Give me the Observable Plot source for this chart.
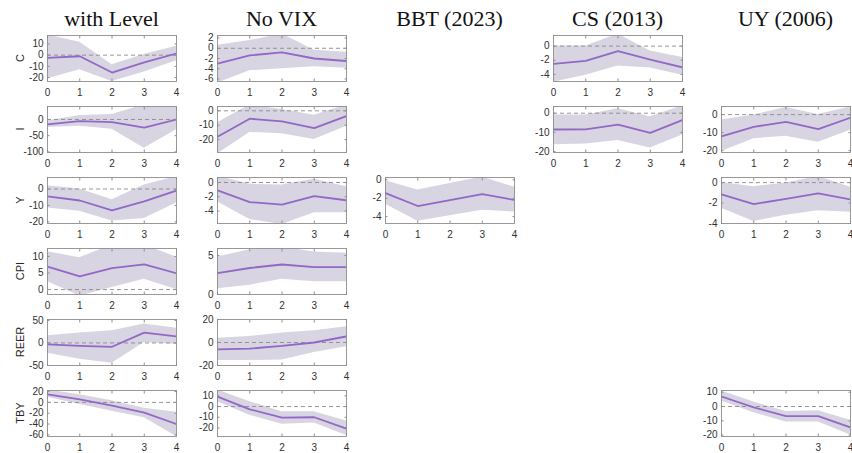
<!DOCTYPE html>
<html><head><meta charset="utf-8">
<script src="https://cdn.jsdelivr.net/npm/d3@7"></script>
<script src="https://cdn.jsdelivr.net/npm/@observablehq/plot@0.6"></script>
<style>
html,body{margin:0;padding:0;background:#fff;}
#root{position:relative;width:852px;height:453px;overflow:hidden;background:#fff;}
.title{position:absolute;font-family:"Liberation Serif","Times New Roman",serif;font-size:22px;line-height:22px;color:#111;white-space:nowrap;transform:translateX(-50%);}
.rowlab{position:absolute;font-family:"Liberation Sans",Arial,sans-serif;font-size:11px;line-height:11px;color:#262626;white-space:nowrap;transform:translate(-50%,-50%) rotate(-90deg);}
.panel{position:absolute;}
</style></head><body><div id="root"></div>
<script>
// ---------------- data ----------------
const horizons = [0, 1, 2, 3, 4];
const columnTitles = ["with Level", "No VIX", "BBT (2023)", "CS (2013)", "UY (2006)"];
const rowLabels = ["C", "I", "Y", "CPI", "REER", "TBY"];

// rows: C, I, Y, CPI, REER, TBY  (null = no panel)
const withLevelMid = [
  [-2.5, -1, -15.5, -6.5, 1.5],
  [-15, -5, -8, -25, 0],
  [-4.5, -7, -13, -7.5, -1],
  [6.9, 4, 6.5, 7.6, 4.9],
  [-3, -6.5, -8.5, 23, 14.5],
  [15, 5.5, -6, -19, -40]
];
const withLevelLo = [
  [-21, -13, -23.5, -15, -5],
  [-25, -21, -30, -89, -32],
  [-11.5, -13.5, -19.5, -18, -8.5],
  [2.4, -2, 0.6, 3.1, 0],
  [-23, -36, -45, 1, -3],
  [9.5, -4, -16.5, -28.5, -63]
];
const withLevelHi = [
  [18, 11.5, -8.5, 0.5, 8],
  [-5, 12, 15, 45, 45],
  [2, 0, -6.5, 2.5, 7.5],
  [11.4, 9.6, 13.5, 13.5, 9.8],
  [16, 22, 27, 42, 32.5],
  [23, 14, 3, -11, -18]
];
const withLevelLimits = [[-23.5, 17.5], [-102, 40], [-21, 7], [-1.5, 12.4], [-50, 52], [-63, 22]];
const withLevelTicks = [[-20, -10, 0, 10], [-100, -50, 0], [-20, -10, 0], [0, 5, 10], [-50, 0, 50], [-60, -40, -20, 0, 20]];

const noVIXMid = [
  [-3, -1.4, -0.8, -2, -2.5],
  [-18, -5.5, -7.4, -12, -3.6],
  [-1.1, -2.75, -3.1, -1.9, -2.5],
  [2.75, 3.4, 3.85, 3.5, 3.5],
  [-5.9, -5.3, -3, 0, 5.3],
  [9.3, -2.6, -10.3, -10, -20.7]
];
const noVIXLo = [
  [-6.8, -4.4, -4, -3.6, -3.9],
  [-30, -15, -16, -20, -10.8],
  [-2.7, -5.2, -5.9, -4.25, -4.25],
  [0.75, 1.2, 1.95, 1.65, 1.65],
  [-15.6, -15.6, -15.3, -8.8, -3.8],
  [4.6, -8.1, -16.6, -15.4, -27]
];
const noVIXHi = [
  [0.6, 1.5, 2.8, -0.4, -0.8],
  [-8.3, 4, 1, -3, 4],
  [0.9, -0.25, -0.35, 0.45, -0.6],
  [4.8, 5.75, 6.1, 5.45, 5.3],
  [3.8, 5.3, 8.2, 10.3, 13.8],
  [15.5, 4.6, -4.9, -4.9, -13.4]
];
const noVIXLimits = [[-6.5, 2.5], [-29, 3], [-5.75, 0.7], [0, 5.9], [-20, 20], [-28, 15]];
const noVIXTicks = [[-6, -4, -2, 0, 2], [-20, -10, 0], [-4, -2, 0], [0, 5], [-20, 0, 20], [-20, -10, 0, 10]];

const bbtMid = [null, null, [-1.45, -2.85, -2.2, -1.55, -2.2], null, null, null];
const bbtLo = [null, null, [-2.65, -4.5, -3.9, -3.3, -3.5], null, null, null];
const bbtHi = [null, null, [-0.1, -1.1, -0.4, 0.3, -0.8], null, null, null];
const bbtLimits = [null, null, [-4.75, 0.25], null, null, null];
const bbtTicks = [null, null, [-4, -2, 0], null, null, null];

const csMid = [[-2.5, -2.1, -0.7, -1.9, -3.0], [-8.5, -8.4, -5.9, -10.3, -3.6], null, null, null, null];
const csLo = [[-5.1, -4.1, -2.8, -3.1, -4.1], [-16.5, -16, -14.2, -18.1, -11.4], null, null, null, null];
const csHi = [[0, 0, 1.7, -0.7, -1.6], [-0.9, -0.9, 2.3, -1.8, 3.8], null, null, null, null];
const csLimits = [[-5, 1.5], [-20.5, 3.5], null, null, null, null];
const csTicks = [[-4, -2, 0], [-20, -10, 0], null, null, null, null];

const uyMid = [null, [-12, -6.8, -4, -8, -1.7], [-1.15, -2.1, -1.6, -1.05, -1.65], null, null, [7, -0.6, -6.7, -6.7, -14.7]];
const uyLo = [null, [-20.5, -13.4, -12, -15.3, -8.7], [-2.5, -3.8, -3.2, -2.75, -2.9], null, null, [3.8, -4.3, -10.9, -10.9, -20]];
const uyHi = [null, [-3, -0.2, 3.9, 0, 4.2], [0, -0.4, -0.05, 0.6, -0.45], null, null, [10.8, 3.1, -3.5, -2.9, -9.7]];
const uyLimits = [null, [-21, 4.5], [-4, 0.5], null, null, [-21, 11.2]];
const uyTicks = [null, [-20, -10, 0], [-4, -2, 0], null, null, [-20, -10, 0, 10]];

const zeroLineShown = [true, true, false, true, true];

// ---------------- layout ----------------
const columns = [
  {mid: withLevelMid, lo: withLevelLo, hi: withLevelHi, lim: withLevelLimits, ticks: withLevelTicks},
  {mid: noVIXMid, lo: noVIXLo, hi: noVIXHi, lim: noVIXLimits, ticks: noVIXTicks},
  {mid: bbtMid, lo: bbtLo, hi: bbtHi, lim: bbtLimits, ticks: bbtTicks},
  {mid: csMid, lo: csLo, hi: csHi, lim: csLimits, ticks: csTicks},
  {mid: uyMid, lo: uyLo, hi: uyHi, lim: uyLimits, ticks: uyTicks}
];
const colLeft = [47, 217, 385, 553, 721];
const rowTop = [35, 106, 177, 248, 319, 390];
const PW = 129, PH = 46;
const ML = 34, MR = 6, MT = 6, MB = 22;
const LINE = "#9168c6", BAND = "#d8d4e2", FRAME = "#8e8e8e";
const plainNum = d => String(d);

const root = document.getElementById("root");

columnTitles.forEach((t, c) => {
  const d = document.createElement("div");
  d.className = "title";
  d.textContent = t;
  d.style.left = (colLeft[c] + PW / 2) + "px";
  d.style.top = "8px";
  root.appendChild(d);
});

rowLabels.forEach((t, r) => {
  const d = document.createElement("div");
  d.className = "rowlab";
  d.textContent = t;
  d.style.left = "20px";
  d.style.top = (rowTop[r] + PH / 2) + "px";
  root.appendChild(d);
});

function panel(mid, lo, hi, lim, ticks, zero) {
  const data = horizons.map((h, i) => ({h, mid: mid[i], lo: lo[i], hi: hi[i]}));
  return Plot.plot({
    width: ML + PW + MR, height: MT + PH + MB,
    marginLeft: ML, marginRight: MR, marginTop: MT, marginBottom: MB,
    style: {fontFamily: '"Liberation Sans", Arial, sans-serif', fontSize: "10px", color: "#303030", background: "transparent", overflow: "visible"},
    x: {domain: [0, 4]},
    y: {domain: lim},
    marks: [
      Plot.areaY(data, {x: "h", y1: "lo", y2: "hi", fill: BAND, clip: true}),
      zero ? Plot.ruleY([0], {stroke: "#8a8a8a", strokeDasharray: "4,3", strokeWidth: 0.9, clip: true}) : null,
      Plot.lineY(data, {x: "h", y: "mid", stroke: LINE, strokeWidth: 1.8, clip: true}),
      Plot.frame({stroke: FRAME, strokeWidth: 0.9}),
      Plot.axisX({ticks: horizons, tickSize: -2.5, tickPadding: 9.5, tickFormat: plainNum, label: null, stroke: FRAME}),
      Plot.axisX({anchor: "top", ticks: horizons, tickSize: -2.5, tickFormat: () => "", label: null, stroke: FRAME}),
      Plot.axisY({ticks: ticks, tickSize: -2.5, tickPadding: 6.5, tickFormat: plainNum, label: null, stroke: FRAME}),
      Plot.axisY({anchor: "right", ticks: ticks, tickSize: -2.5, tickFormat: () => "", label: null, stroke: FRAME})
    ]
  });
}

columns.forEach((col, c) => {
  rowLabels.forEach((_, r) => {
    if (!col.mid[r]) return;
    const svg = panel(col.mid[r], col.lo[r], col.hi[r], col.lim[r], col.ticks[r], zeroLineShown[c]);
    svg.classList.add("panel");
    svg.style.left = (colLeft[c] - ML) + "px";
    svg.style.top = (rowTop[r] - MT) + "px";
    root.appendChild(svg);
  });
});
</script></body></html>
